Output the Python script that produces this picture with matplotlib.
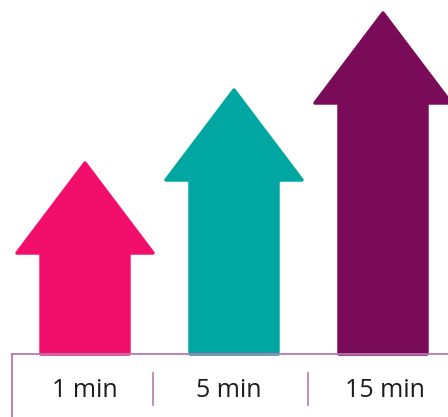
import matplotlib

matplotlib.use("Agg")
import matplotlib.pyplot as plt
from matplotlib.patches import Polygon

# data
labels = ["1 min", "5 min", "15 min"]
arrow_heights = [191, 264, 341]
colors = ["#f20f6c", "#00a6a1", "#7a0b58"]

# layout (pixel units)
W, H = 448, 417
BASE_Y = 354
ARROW_X = [85, 234, 383]
LABEL_X = [85, 229, 385]
SEP_X = [153, 308]
HEAD_H = 90
HEAD_HW = 68
SHAFT_HW = 44
LINE_COLOR = "#b879ad"

fig = plt.figure(figsize=(W / 100, H / 100), dpi=100)
ax = fig.add_axes([0, 0, 1, 1])
ax.set_xlim(0, W)
ax.set_ylim(H, 0)
ax.axis("off")

for cx, h, c in zip(ARROW_X, arrow_heights, colors):
    tip = BASE_Y - h
    hb = tip + HEAD_H
    pts = [
        (cx - SHAFT_HW, BASE_Y),
        (cx - SHAFT_HW, hb),
        (cx - HEAD_HW, hb),
        (cx, tip),
        (cx + HEAD_HW, hb),
        (cx + SHAFT_HW, hb),
        (cx + SHAFT_HW, BASE_Y),
    ]
    ax.add_patch(Polygon(pts, closed=True, facecolor=c, edgecolor=c,
                         linewidth=2.5, joinstyle="round", zorder=2))

# label box
ax.plot([12, W + 5], [BASE_Y, BASE_Y], color=LINE_COLOR, lw=1.3, zorder=3)
ax.plot([12, 12], [BASE_Y, H + 5], color=LINE_COLOR, lw=1.3, zorder=3)
for sx in SEP_X:
    ax.plot([sx, sx], [373, 405], color=LINE_COLOR, lw=1.2, zorder=3)

for lx, lab in zip(LABEL_X, labels):
    ax.text(lx, 397, lab, ha="center", va="baseline", fontsize=18,
            family="Open Sans", color="#1e1b1c")

fig.savefig("out.png", dpi=100)
